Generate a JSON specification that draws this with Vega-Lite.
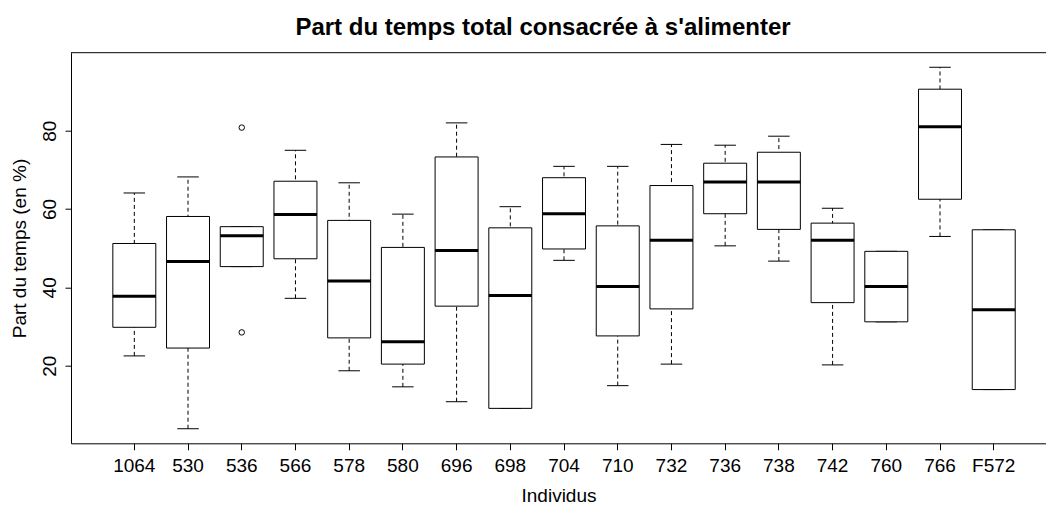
{
  "$schema": "https://vega.github.io/schema/vega-lite/v6.json",
  "width": 975,
  "height": 390.6,
  "autosize": {"type": "none"},
  "padding": {"left": 71, "top": 52.7, "right": 0, "bottom": 63.7},
  "background": "white",
  "title": {
    "text": "Part du temps total consacrée à s'alimenter",
    "font": "Liberation Sans",
    "fontSize": 24,
    "fontWeight": "bold",
    "color": "black",
    "anchor": "middle",
    "frame": "group",
    "baseline": "alphabetic",
    "offset": 21.2,
    "dx": -15.5,
    "dy": 27.5
  },
  "config": {
    "view": {"stroke": null},
    "font": "Liberation Sans",
    "axis": {
      "grid": false,
      "domainColor": "black",
      "tickColor": "black",
      "labelColor": "black",
      "titleColor": "black",
      "labelFont": "Liberation Sans",
      "titleFont": "Liberation Sans",
      "labelFontSize": 19,
      "titleFontSize": 19,
      "titleFontWeight": "normal",
      "domainWidth": 1,
      "tickWidth": 1
    }
  },
  "datasets": {
    "boxes": [
      {"id": "1064", "lower": 22.5, "q1": 29.8, "median": 37.7, "q3": 51.2, "upper": 64.1},
      {"id": "530", "lower": 3.9, "q1": 24.5, "median": 46.6, "q3": 58.1, "upper": 68.2},
      {"id": "536", "lower": 45.3, "q1": 45.3, "median": 53.2, "q3": 55.5, "upper": 55.5},
      {"id": "566", "lower": 37.2, "q1": 47.3, "median": 58.6, "q3": 67.1, "upper": 75.0},
      {"id": "578", "lower": 18.7, "q1": 27.1, "median": 41.6, "q3": 57.1, "upper": 66.7},
      {"id": "580", "lower": 14.6, "q1": 20.4, "median": 26.1, "q3": 50.2, "upper": 58.7},
      {"id": "696", "lower": 10.8, "q1": 35.2, "median": 49.4, "q3": 73.3, "upper": 82.0},
      {"id": "698", "lower": 9.1, "q1": 9.1, "median": 37.9, "q3": 55.2, "upper": 60.6},
      {"id": "704", "lower": 46.9, "q1": 49.8, "median": 58.8, "q3": 68.0, "upper": 70.9},
      {"id": "710", "lower": 14.9, "q1": 27.6, "median": 40.2, "q3": 55.7, "upper": 70.9},
      {"id": "732", "lower": 20.4, "q1": 34.5, "median": 52.0, "q3": 66.0, "upper": 76.5},
      {"id": "736", "lower": 50.6, "q1": 58.8, "median": 66.9, "q3": 71.7, "upper": 76.3},
      {"id": "738", "lower": 46.7, "q1": 54.8, "median": 66.9, "q3": 74.5, "upper": 78.6},
      {"id": "742", "lower": 20.2, "q1": 36.1, "median": 52.0, "q3": 56.4, "upper": 60.2},
      {"id": "760", "lower": 31.2, "q1": 31.2, "median": 40.2, "q3": 49.2, "upper": 49.2},
      {"id": "766", "lower": 53.0, "q1": 62.5, "median": 81.0, "q3": 90.6, "upper": 96.2},
      {"id": "F572", "lower": 13.9, "q1": 13.9, "median": 34.3, "q3": 54.7, "upper": 54.7}
    ],
    "outliers": [
      {"id": "536", "value": 80.8},
      {"id": "536", "value": 28.5}
    ]
  },
  "data": {"name": "boxes"},
  "layer": [
    {
      "mark": {"type": "rule", "color": "black", "strokeWidth": 1, "strokeDash": [4, 3], "opacity": 1},
      "encoding": {
        "x": {
          "field": "id", "type": "nominal", "sort": null, "title": "Individus",
          "scale": {
            "type": "band",
            "domain": ["1064", "530", "536", "566", "578", "580", "696", "698", "704", "710", "732", "736", "738", "742", "760", "766", "F572"],
            "paddingInner": 0.2, "paddingOuter": 0.676, "align": 0.576
          },
          "axis": {
            "labelAngle": 0, "tickSize": 6.5, "labelPadding": 7,
            "labelBaseline": "top", "titlePadding": 11
          }
        },
        "y": {
          "field": "lower", "type": "quantitative", "title": "Part du temps (en %)",
          "scale": {"domain": [0.18, 99.92], "nice": false, "zero": false},
          "axis": {
            "values": [20, 40, 60, 80], "tickSize": 6,
            "labelAngle": -90, "labelAlign": "center", "labelBaseline": "alphabetic",
            "labelPadding": 10, "titlePadding": 11
          }
        },
        "y2": {"field": "upper"}
      }
    },
    {
      "mark": {"type": "tick", "color": "black", "size": 21.5, "thickness": 1, "opacity": 1},
      "encoding": {
        "x": {"field": "id", "type": "nominal", "sort": null, "title": "Individus"},
        "y": {"field": "lower", "type": "quantitative", "title": "Part du temps (en %)"}
      }
    },
    {
      "mark": {"type": "tick", "color": "black", "size": 21.5, "thickness": 1, "opacity": 1},
      "encoding": {
        "x": {"field": "id", "type": "nominal", "sort": null, "title": "Individus"},
        "y": {"field": "upper", "type": "quantitative", "title": "Part du temps (en %)"}
      }
    },
    {
      "mark": {"type": "bar", "fill": "white", "stroke": "black", "strokeWidth": 1, "opacity": 1},
      "encoding": {
        "x": {"field": "id", "type": "nominal", "sort": null, "title": "Individus"},
        "y": {"field": "q1", "type": "quantitative", "title": "Part du temps (en %)"},
        "y2": {"field": "q3"}
      }
    },
    {
      "mark": {"type": "tick", "color": "black", "size": 43, "thickness": 3, "opacity": 1},
      "encoding": {
        "x": {"field": "id", "type": "nominal", "sort": null, "title": "Individus"},
        "y": {"field": "median", "type": "quantitative", "title": "Part du temps (en %)"}
      }
    },
    {
      "data": {"name": "outliers"},
      "mark": {"type": "point", "shape": "circle", "filled": false, "color": "black", "strokeWidth": 1, "size": 30, "opacity": 1},
      "encoding": {
        "x": {"field": "id", "type": "nominal", "sort": null, "title": "Individus"},
        "y": {"field": "value", "type": "quantitative", "title": "Part du temps (en %)"}
      }
    },
    {
      "data": {"values": [{}]},
      "mark": {"type": "rule", "color": "black", "strokeWidth": 1},
      "encoding": {
        "y": {"datum": 99.92, "type": "quantitative"}
      }
    }
  ]
}
